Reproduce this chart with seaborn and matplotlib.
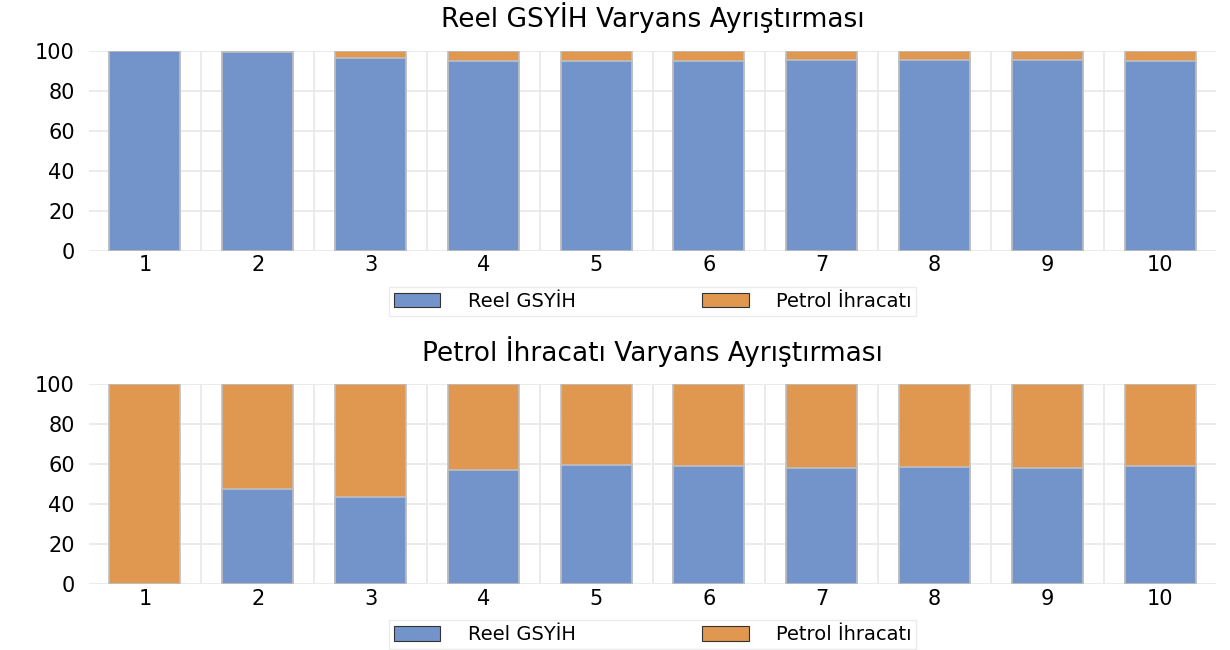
import pandas as pd
import matplotlib
matplotlib.use("Agg")
import matplotlib.pyplot as plt
import seaborn as sns
from matplotlib.patches import Patch

# Data, shares in %
periods = [1, 2, 3, 4, 5, 6, 7, 8, 9, 10]
series_names = ["Reel GSYİH", "Petrol İhracatı"]

# Reel GSYİH variance decomposition
gdp_gdp_share = [100.0, 99.3, 96.5, 95.0, 94.7, 95.0, 95.3, 95.3, 95.3, 95.0]
gdp_oil_share = [0.0, 0.7, 3.5, 5.0, 5.3, 5.0, 4.7, 4.7, 4.7, 5.0]

# Petrol ihracati variance decomposition
oil_gdp_share = [0.0, 47.8, 43.6, 57.0, 59.5, 59.1, 58.0, 58.5, 58.0, 59.1]
oil_oil_share = [100.0, 52.2, 56.4, 43.0, 40.5, 40.9, 42.0, 41.5, 42.0, 40.9]

titles = ["Reel GSYİH Varyans Ayrıştırması", "Petrol İhracatı Varyans Ayrıştırması"]

blue = "#7394CB"
orange = "#E0974F"
edge = "#BFBFBF"
grid_c = "#E8E8E8"

sns.set_theme(style="white")
plt.rcParams["font.family"] = ["DejaVu Sans"]
plt.rcParams["text.color"] = "black"
plt.rcParams["xtick.color"] = "black"
plt.rcParams["ytick.color"] = "black"

fig = plt.figure(figsize=(12.3, 6.5), dpi=100)
ax1 = fig.add_axes([0.072, 0.614, 0.917, 0.308])
ax2 = fig.add_axes([0.072, 0.101, 0.917, 0.308])

panels = [
    (ax1, gdp_gdp_share, gdp_oil_share, titles[0]),
    (ax2, oil_gdp_share, oil_oil_share, titles[1]),
]

for ax, blue_vals, orange_vals, title in panels:
    df = pd.DataFrame({
        "period": [str(p) for p in periods],
        "gdp": blue_vals,
        "oil": orange_vals,
    })
    df["total"] = df["gdp"] + df["oil"]

    # vertical separators between categories
    ax.vlines([i + 0.5 for i in range(len(periods) - 1)], 0, 100,
              color=grid_c, lw=1.2, zorder=0)

    # stacked bars: total (orange on top) then blue bottom segment
    sns.barplot(data=df, x="period", y="total", color=orange, saturation=1,
                width=0.63, edgecolor=edge, linewidth=1.2, ax=ax, zorder=2)
    sns.barplot(data=df, x="period", y="gdp", color=blue, saturation=1,
                width=0.63, edgecolor=edge, linewidth=1.2, ax=ax, zorder=3)

    ax.set_xlim(-0.5, len(periods) - 0.5)
    ax.set_ylim(0, 100)
    ax.set_yticks([0, 20, 40, 60, 80, 100])
    ax.yaxis.grid(True, color=grid_c, lw=1.2)
    ax.set_axisbelow(True)
    ax.set_xlabel("")
    ax.set_ylabel("")
    sns.despine(ax=ax, left=True, bottom=True)
    ax.tick_params(axis="y", length=0, pad=10, labelsize=15)
    ax.tick_params(axis="x", length=0, pad=3, labelsize=15)
    ax.set_title(title, fontsize=19, pad=17)

    handles = [Patch(facecolor=blue, edgecolor="#333333", lw=0.8),
               Patch(facecolor=orange, edgecolor="#333333", lw=0.8)]
    leg = ax.legend(handles, series_names, loc="upper center",
                    bbox_to_anchor=(0.5, -0.18), ncol=2, frameon=True,
                    fancybox=False, fontsize=14, handlelength=2.4,
                    handleheight=0.75, columnspacing=6.5, handletextpad=1.4,
                    borderpad=0.25, borderaxespad=0.0)
    leg.get_frame().set_edgecolor("#E6E6E6")
    leg.get_frame().set_linewidth(1.0)

fig.savefig("out.png", dpi=100, facecolor="white")
